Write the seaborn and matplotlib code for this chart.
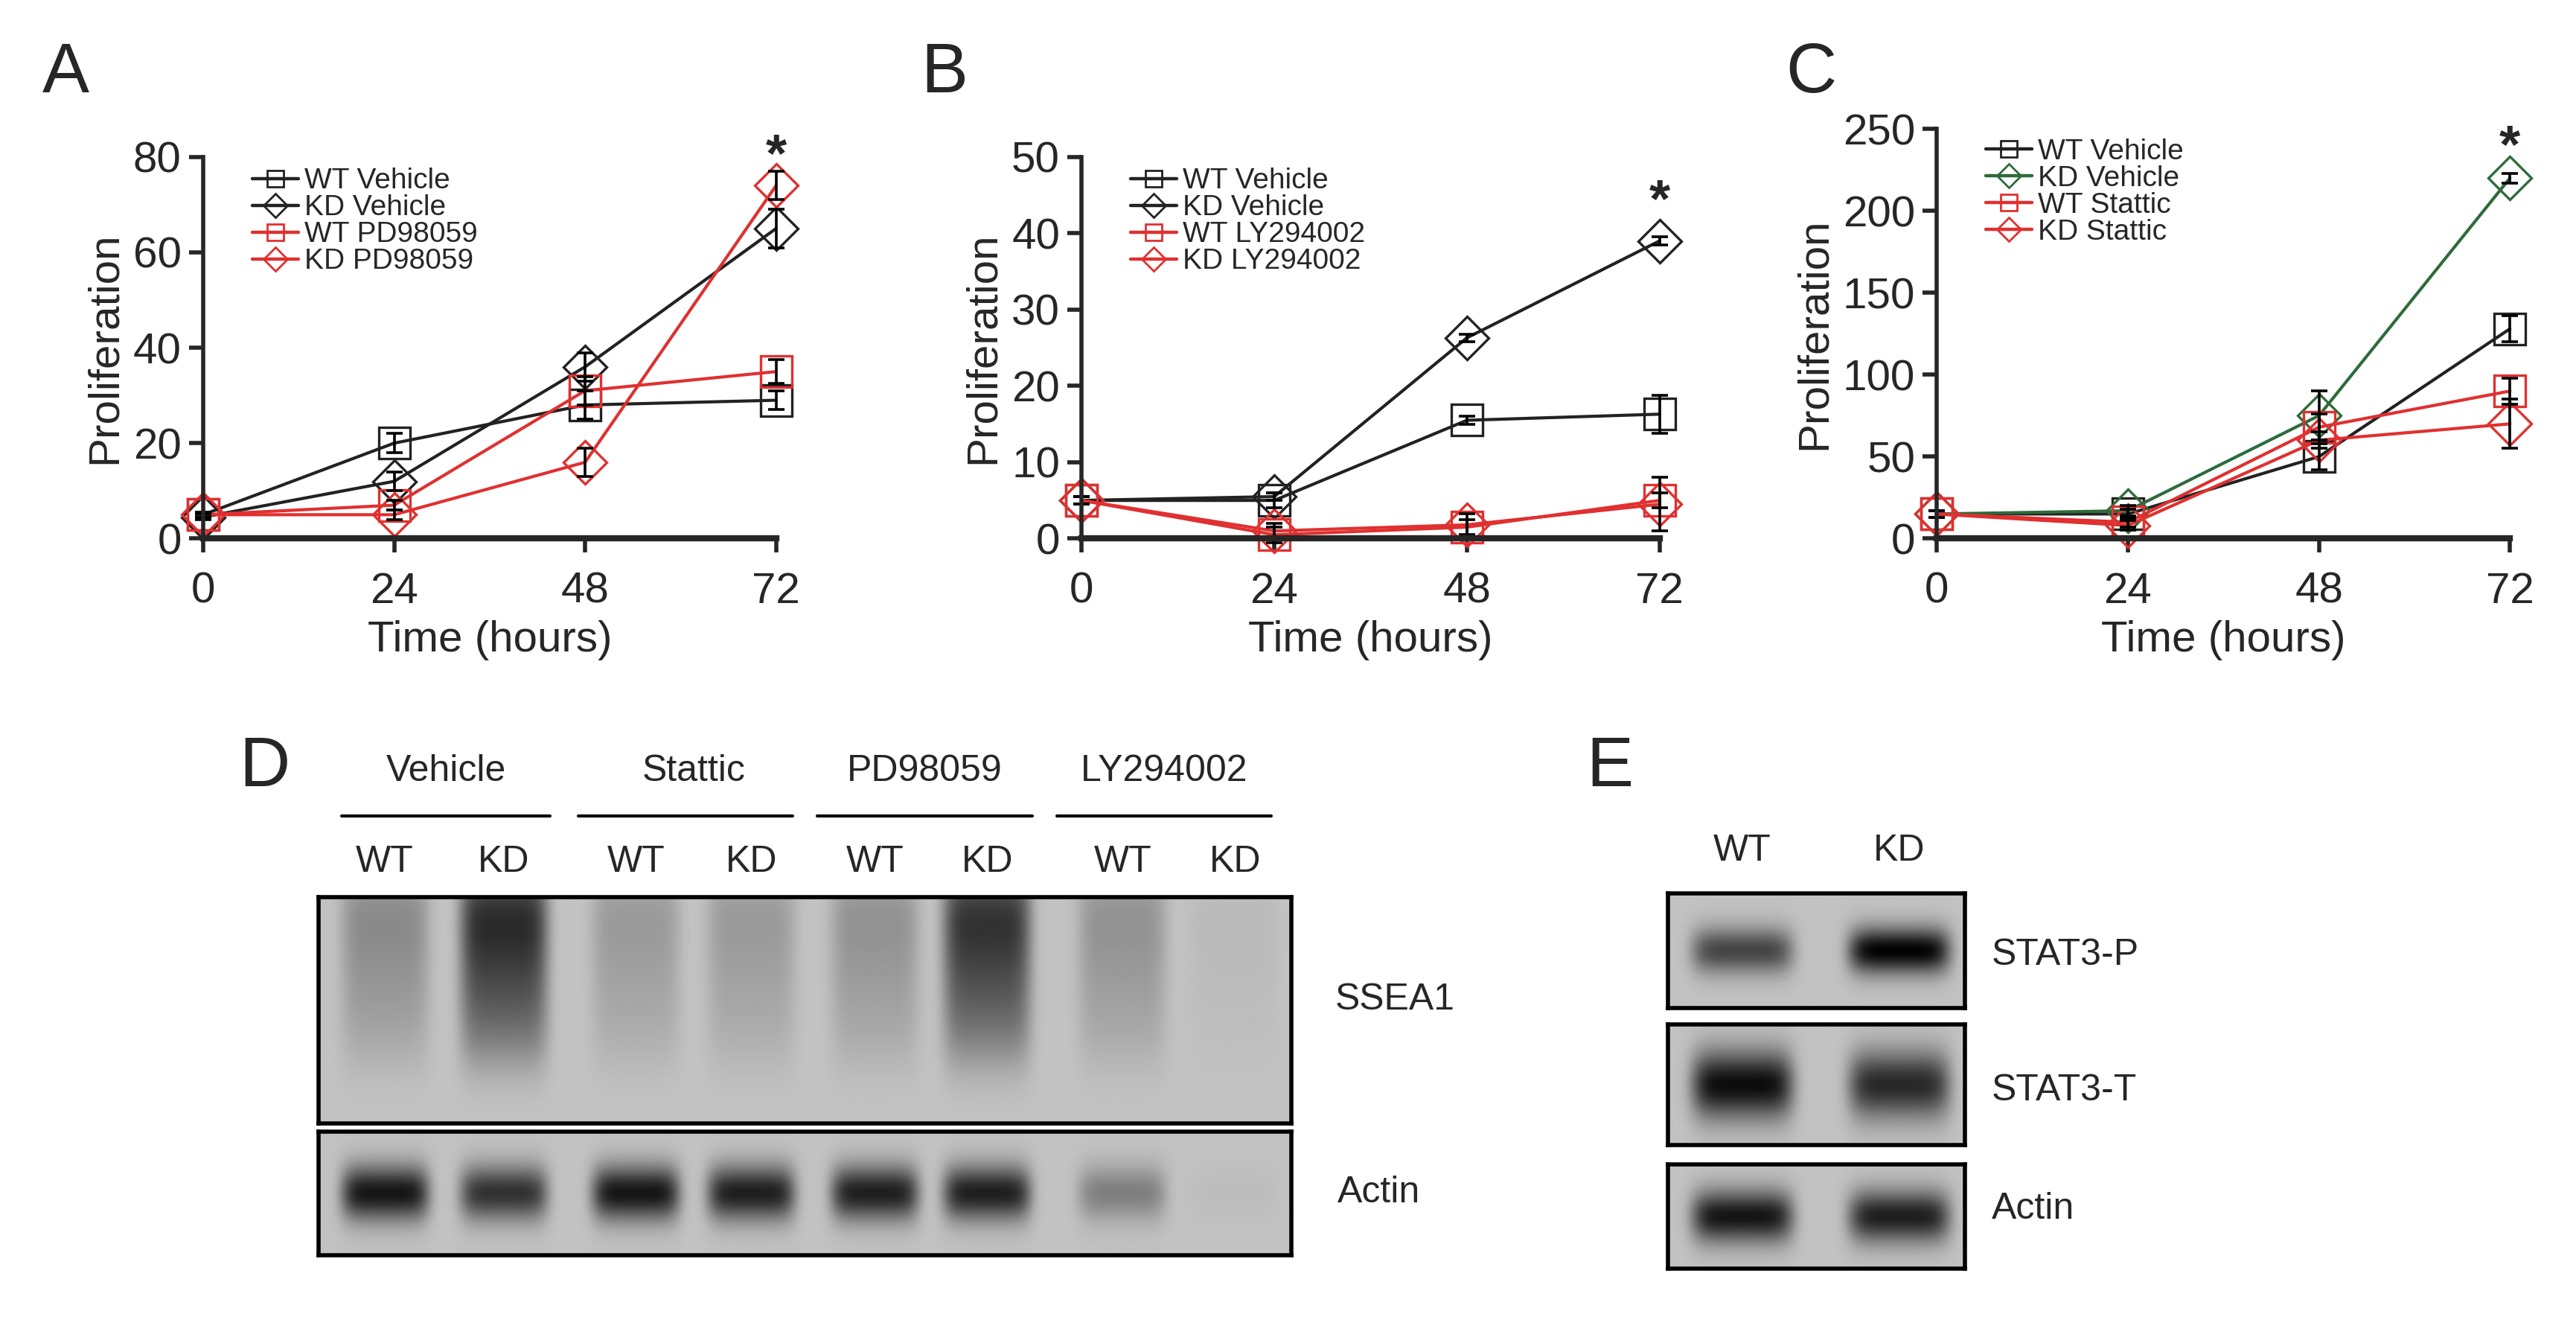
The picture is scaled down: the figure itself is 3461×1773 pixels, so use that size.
import numpy as np
import pandas as pd
import matplotlib
matplotlib.use("Agg")
import matplotlib.pyplot as plt
import seaborn as sns

sns.set_style("white")
plt.rcParams["font.family"] = ["Liberation Sans Narrow", "Liberation Sans", "DejaVu Sans"]

time_h = [0, 24, 48, 72]

# Panel A
a_labels = ["WT Vehicle", "KD Vehicle", "WT PD98059", "KD PD98059"]
a_wt_veh = [5, 20, 28, 29]
a_kd_veh = [4.5, 12, 36, 65]
a_wt_pd = [5, 7, 31, 35]
a_kd_pd = [5, 5, 16, 74]
a_err = [[0.5, 2, 3, 2], [0.5, 2, 3, 4], [0.5, 1, 3, 2.5], [0.5, 1, 3, 3]]

# Panel B
b_labels = ["WT Vehicle", "KD Vehicle", "WT LY294002", "KD LY294002"]
b_wt_veh = [5, 5, 15.5, 16.3]
b_kd_veh = [5, 5.5, 26.3, 39]
b_wt_ly = [5, 0.5, 1.5, 5]
b_kd_ly = [5, 1, 1.8, 4.5]
b_err = [[0.5, 1, 0.5, 2.5], [0.5, 0.5, 0.5, 0.5], [0.5, 1, 1, 1], [0.5, 1, 1.5, 3.5]]

# Panel C
c_labels = ["WT Vehicle", "KD Vehicle", "WT Stattic", "KD Stattic"]
c_wt_veh = [15, 15, 50, 128]
c_kd_veh = [15, 17, 75, 220]
c_wt_st = [15, 10, 68, 90]
c_kd_st = [15, 8, 60, 70]
c_err = [[2, 3, 8, 8], [2, 3, 15, 3], [2, 3, 8, 8], [2, 3, 5, 15]]

# Blots (band intensity 0..1 per lane)
d_groups = ["Vehicle", "Stattic", "PD98059", "LY294002"]
d_lanes = ["WT", "KD", "WT", "KD", "WT", "KD", "WT", "KD"]
d_ssea1 = [0.35, 0.95, 0.25, 0.25, 0.3, 0.9, 0.3, 0.05]
d_actin = [0.9, 0.75, 0.9, 0.85, 0.85, 0.85, 0.35, 0.03]
e_lanes = ["WT", "KD"]
e_stat3p = [0.65, 1.0]
e_stat3t = [0.95, 0.8]
e_actin = [0.9, 0.85]

fig = plt.figure(figsize=(17.305, 8.865), dpi=200)
W, H = 1560, 799


def ax_at(x0, y0, x1, y1):
    return fig.add_axes([x0 / W, 1 - y1 / H, (x1 - x0) / W, (y1 - y0) / H])


def line_panel(ax, series, labels, errs, colors, markers, ymax, ystep, star_y):
    rows = []
    for lab, ys in zip(labels, series):
        for t, y in zip(time_h, ys):
            rows.append({"Time": t, "Proliferation": y, "Group": lab})
    df = pd.DataFrame(rows)
    sns.lineplot(data=df, x="Time", y="Proliferation", hue="Group", style="Group",
                 palette=dict(zip(labels, colors)), markers=dict(zip(labels, markers)),
                 dashes=False, ax=ax, legend=False, lw=1.5, markersize=15,
                 markerfacecolor="none", markeredgewidth=1.2, clip_on=False)
    for line, c in zip(ax.lines, colors):
        line.set_markeredgecolor(c)
        line.set_markerfacecolor("none")
    for ys, e, c in zip(series, errs, colors):
        ax.errorbar(time_h, ys, yerr=e, fmt="none", ecolor="black", elinewidth=1.3,
                    capsize=4, capthick=1.3, clip_on=False)
    handles = [plt.Line2D([], [], color=c, marker=m, markersize=8, mfc="none", mec=c, lw=1.6)
               for c, m in zip(colors, markers)]
    ax.legend(handles, labels, loc="upper left", bbox_to_anchor=(0.04, 1.04), frameon=False,
              fontsize=14, handlelength=1.6, handletextpad=0.2, labelspacing=0.0)
    ax.set_xlim(0, 72)
    ax.set_ylim(0, ymax)
    ax.set_xticks(time_h)
    ax.set_yticks(np.arange(0, ymax + 1, ystep))
    ax.tick_params(axis="both", labelsize=21, width=2, length=7, direction="out",
                   bottom=True, left=True)
    ax.tick_params(axis="x", pad=9)
    for s in ["top", "right"]:
        ax.spines[s].set_visible(False)
    ax.spines["left"].set_linewidth(2)
    ax.spines["bottom"].set_linewidth(3)
    ax.set_xlabel("Time (hours)", fontsize=21, family="Liberation Sans", labelpad=4)
    ax.set_ylabel("Proliferation", fontsize=21, family="Liberation Sans")
    ax.text(72, star_y, "*", ha="center", va="center", fontsize=26, fontweight="bold")


axA = ax_at(123, 95, 470, 326)
line_panel(axA, [a_wt_veh, a_kd_veh, a_wt_pd, a_kd_pd], a_labels, a_err,
           ["#222222", "#222222", "#e03030", "#e03030"], ["s", "D", "s", "D"], 80, 20, 80)
axB = ax_at(655, 95, 1005, 326)
line_panel(axB, [b_wt_veh, b_kd_veh, b_wt_ly, b_kd_ly], b_labels, b_err,
           ["#222222", "#222222", "#e03030", "#e03030"], ["s", "D", "s", "D"], 50, 10, 44)
axC = ax_at(1173, 78, 1520, 326)
line_panel(axC, [c_wt_veh, c_kd_veh, c_wt_st, c_kd_st], c_labels, c_err,
           ["#222222", "#2e6b3a", "#e03030", "#e03030"], ["s", "D", "s", "D"], 250, 50, 238)

for lab, x in [("A", 40), ("B", 572), ("C", 1097), ("D", 160), ("E", 975)]:
    fig.text(x / W, 1 - (45 if lab in "ABC" else 465) / H, lab, fontsize=34,
             family="Liberation Sans", ha="center", va="center")


def blot(ax, intensities, centers, band_h, smear=False):
    nx, ny = 600, 120
    xs = np.linspace(0, 1, nx)
    ys = np.linspace(0, 1, ny)
    X, Y = np.meshgrid(xs, ys)
    img = np.full((ny, nx), 0.76)
    for c, v in zip(centers, intensities):
        wx = np.exp(-((X - c) / 0.045) ** 6) if len(centers) > 2 else np.exp(-((X - c) / 0.17) ** 6)
        if smear:
            wy = np.clip(1.0 - Y * 0.9, 0, 1) * np.exp(-((Y - 0.35) / 0.45) ** 4)
        else:
            wy = np.exp(-((Y - 0.5) / band_h) ** 2)
        img -= 0.75 * v * wx * wy
    ax.imshow(np.clip(img, 0, 1), cmap="gray", vmin=0, vmax=1, aspect="auto")
    ax.set_xticks([])
    ax.set_yticks([])
    for s in ax.spines.values():
        s.set_linewidth(2)
        s.set_color("black")


d_x0, d_x1 = 193, 782
d_lane_px = [233, 305, 385, 455, 530, 598, 680, 748]
d_centers = [(p - d_x0) / (d_x1 - d_x0) for p in d_lane_px]
blot(ax_at(d_x0, 543, d_x1, 680), d_ssea1, d_centers, 0.3, smear=True)
blot(ax_at(d_x0, 685, d_x1, 760), d_actin, d_centers, 0.22)
fig.text(845 / W, 1 - 605 / H, "SSEA1", fontsize=18, family="Liberation Sans", ha="center", va="center")
fig.text(835 / W, 1 - 722 / H, "Actin", fontsize=18, family="Liberation Sans", ha="center", va="center")
for g, gx, (u0, u1) in zip(d_groups, [270, 420, 560, 705],
                           [(207, 333), (350, 480), (495, 625), (640, 770)]):
    fig.text(gx / W, 1 - 467 / H, g, fontsize=18, family="Liberation Sans", ha="center", va="center")
    fig.add_artist(plt.Line2D([u0 / W, u1 / W], [1 - 494 / H] * 2, color="black", lw=1.5))
for lab, px in zip(d_lanes, d_lane_px):
    fig.text(px / W, 1 - 522 / H, lab, fontsize=18, family="Liberation Sans", ha="center", va="center")

e_x0, e_x1 = 1010, 1190
e_lane_px = [1055, 1150]
e_centers = [(p - e_x0) / (e_x1 - e_x0) for p in e_lane_px]
blot(ax_at(e_x0, 541, e_x1, 610), e_stat3p, e_centers, 0.2)
blot(ax_at(e_x0, 620, e_x1, 693), e_stat3t, e_centers, 0.28)
blot(ax_at(e_x0, 705, e_x1, 768), e_actin, e_centers, 0.25)
for lab, px in zip(e_lanes, e_lane_px):
    fig.text(px / W, 1 - 515 / H, lab, fontsize=18, family="Liberation Sans", ha="center", va="center")
for lab, yy in [("STAT3-P", 578), ("STAT3-T", 660), ("Actin", 732)]:
    fig.text(1206 / W, 1 - yy / H, lab, fontsize=18, family="Liberation Sans", ha="left", va="center")

fig.savefig("out.png", dpi=200, facecolor="white")
